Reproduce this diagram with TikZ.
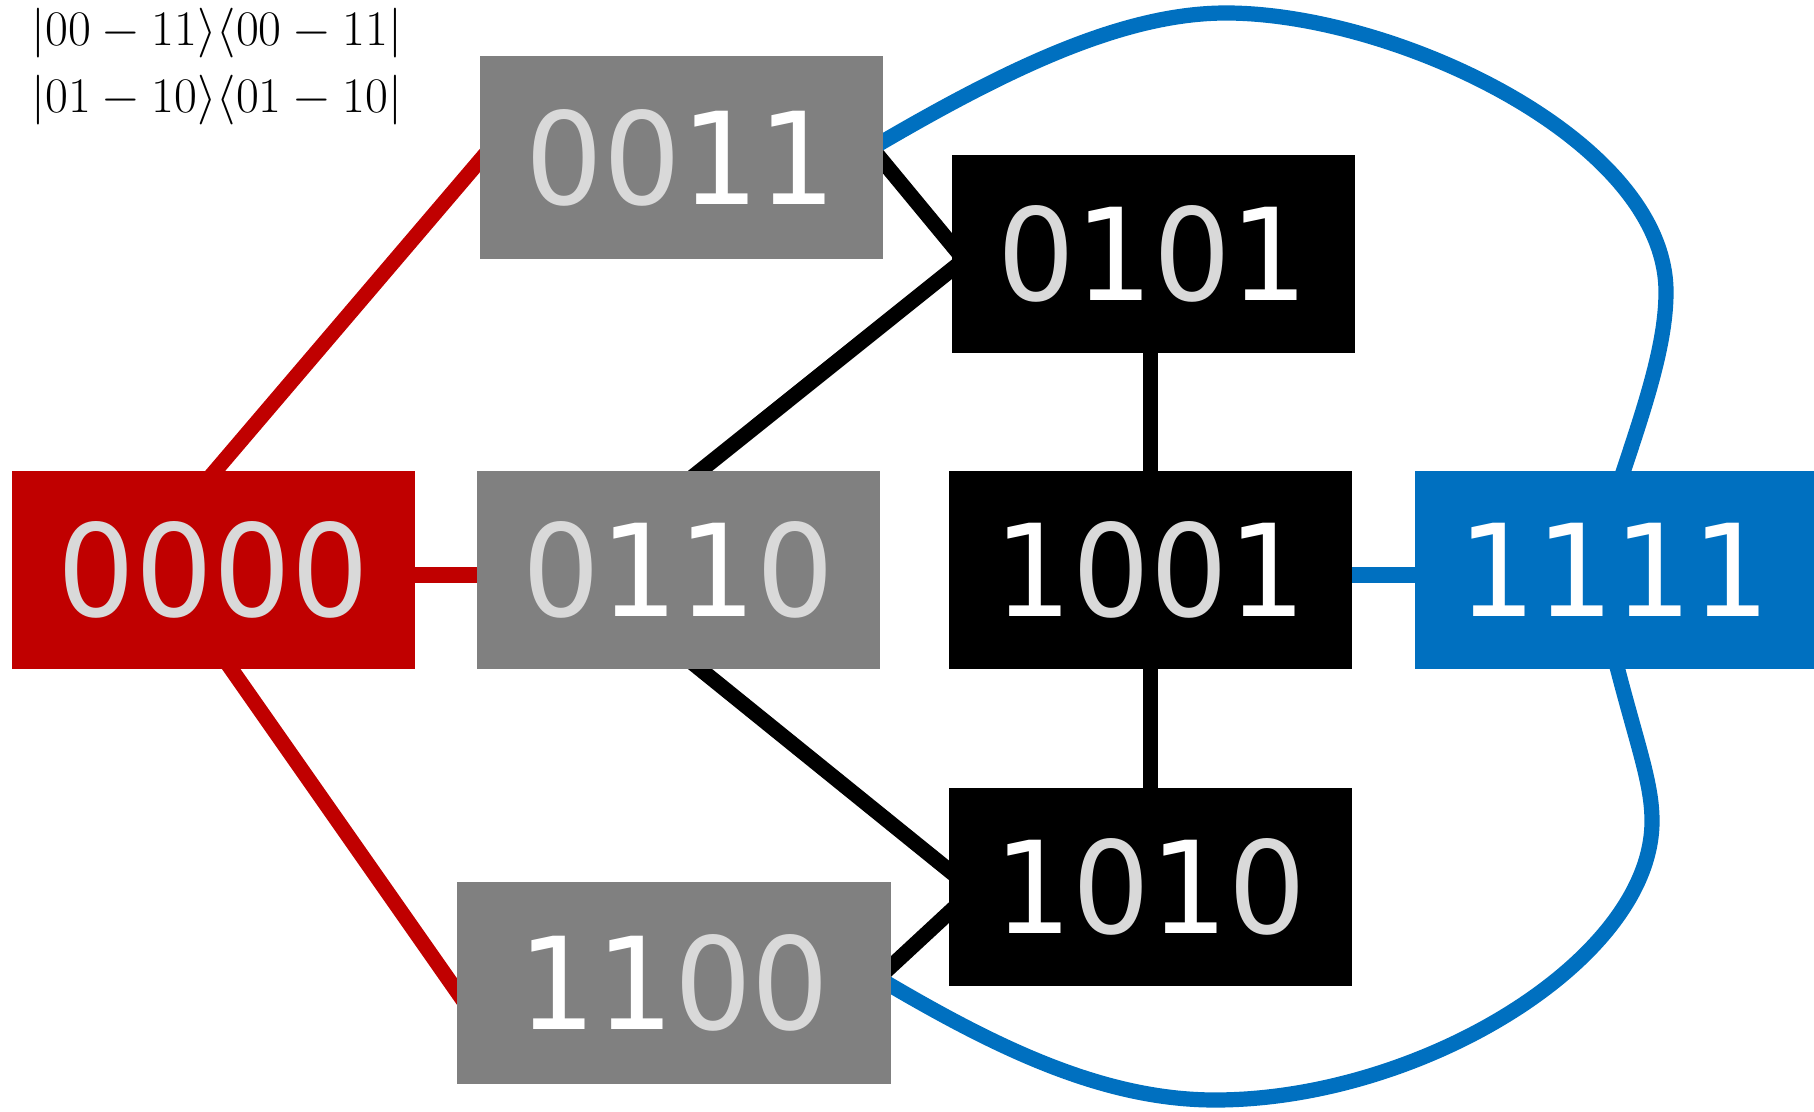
\documentclass[tikz,border=0pt]{standalone}
\usepackage[no-math]{fontspec}
\usepackage{graphicx}
\newfontfamily\dejavu{DejaVu Sans}
\usetikzlibrary{calc,backgrounds}

\definecolor{redstate}{HTML}{C00000}
\definecolor{graystate}{HTML}{808080}
\definecolor{bluestate}{HTML}{0070C0}
\definecolor{zerogray}{HTML}{D9D9D9}

% digits: 0 in light gray, 1 in white, set slightly narrow
\newcommand\bitz{\textcolor{zerogray}{0}}
\newcommand\bito{\textcolor{white}{1}}
\newcommand\bitrow[1]{\scalebox{0.955}[1]{#1}}

\tikzset{
  state/.style={rectangle, inner sep=0pt, minimum width=201.5pt, minimum height=99pt,
    font=\dejavu\fontsize{64}{70}\selectfont},
  ket/.style={anchor=base west, inner sep=0pt, font=\fontsize{26}{30}\selectfont},
  link/.style={line width=7.6pt, shorten <=-14pt, shorten >=-14pt},
}

\begin{document}
\begin{tikzpicture}[x=0.5pt,y=-0.5pt]
\useasboundingbox (0,0) rectangle (1814,1112);

% basis states
\node[state, fill=redstate] (n0000) at (213.5,570) {\bitrow{\bitz\bitz\bitz\bitz}};
\node[state, fill=graystate, minimum height=101.5pt] (n0011) at (681,157.5) {\bitrow{\bitz\bitz\bito\bito}};
\node[state, fill=black] (n0101) at (1153,254) {\bitrow{\bitz\bito\bitz\bito}};
\node[state, fill=graystate] (n0110) at (678.5,570) {\bitrow{\bitz\bito\bito\bitz}};
\node[state, fill=black] (n1001) at (1150.5,570) {\bitrow{\bito\bitz\bitz\bito}};
\node[state, fill=bluestate, minimum width=199.5pt] (n1111) at (1614.5,570) {\bitrow{\bito\bito\bito\bito}};
\node[state, fill=black] (n1010) at (1150.5,887) {\bitrow{\bito\bitz\bito\bitz}};
\node[state, fill=graystate, minimum width=217pt, minimum height=101pt] (n1100) at (674,983) {\bitrow{\bito\bito\bitz\bitz}};

% projector labels
\node[ket] (ketA) at (31,46) {$|00-11\rangle\langle00-11|$};
\node[ket] (ketB) at (31,113) {$|01-10\rangle\langle01-10|$};

\begin{scope}[on background layer]
  % couplings of 0000
  \draw[link, redstate] ($(n0000.north)+(2,0)$) -- ($(n0011.west)+(0,4)$);
  \draw[link, redstate] ($(n0000.east)+(0,5)$) -- ($(n0110.west)+(0,5)$);
  \draw[link, redstate] ($(n0000.south)+(18,0)$) -- ($(n1100.west)+(0,8)$);
  % middle couplings
  \draw[link, black] ($(n0011.east)+(0,4)$) -- ($(n0101.west)+(0,-10)$);
  \draw[link, black] ($(n0110.north)+(22,0)$) -- ($(n0101.west)+(0,16)$);
  \draw[link, black] ($(n0110.south)+(22,0)$) -- ($(n1010.west)+(0,-17)$);
  \draw[link, black] ($(n1100.east)+(0,-17)$) -- ($(n1010.west)+(0,26)$);
  \draw[link, black] (n1001.north) -- (n1001.north |- n0101.south);
  \draw[link, black] (n1001.south) -- (n1010.north);
  % couplings of 1111
  \draw[link, bluestate] ($(n1001.east)+(0,5)$) -- ($(n1111.west)+(0,5)$);
  \draw[link, bluestate] ($(n0011.east)+(0,-16)$)
     .. controls (1000,72) and (1120,13) .. (1226,13)
     .. controls (1395,13) and (1666,140) .. (1666,292)
     .. controls (1666,350) and (1640,420) .. ($(n1111.north)+(9,0)$);
  \draw[link, bluestate] ($(n1100.east)+(0,3)$)
     .. controls (990,1045) and (1100,1100) .. (1215,1100)
     .. controls (1420,1100) and (1652,960) .. (1652,821)
     .. controls (1652,780) and (1635,740) .. ($(n1111.south)+(3,0)$);
\end{scope}
\end{tikzpicture}
\end{document}
